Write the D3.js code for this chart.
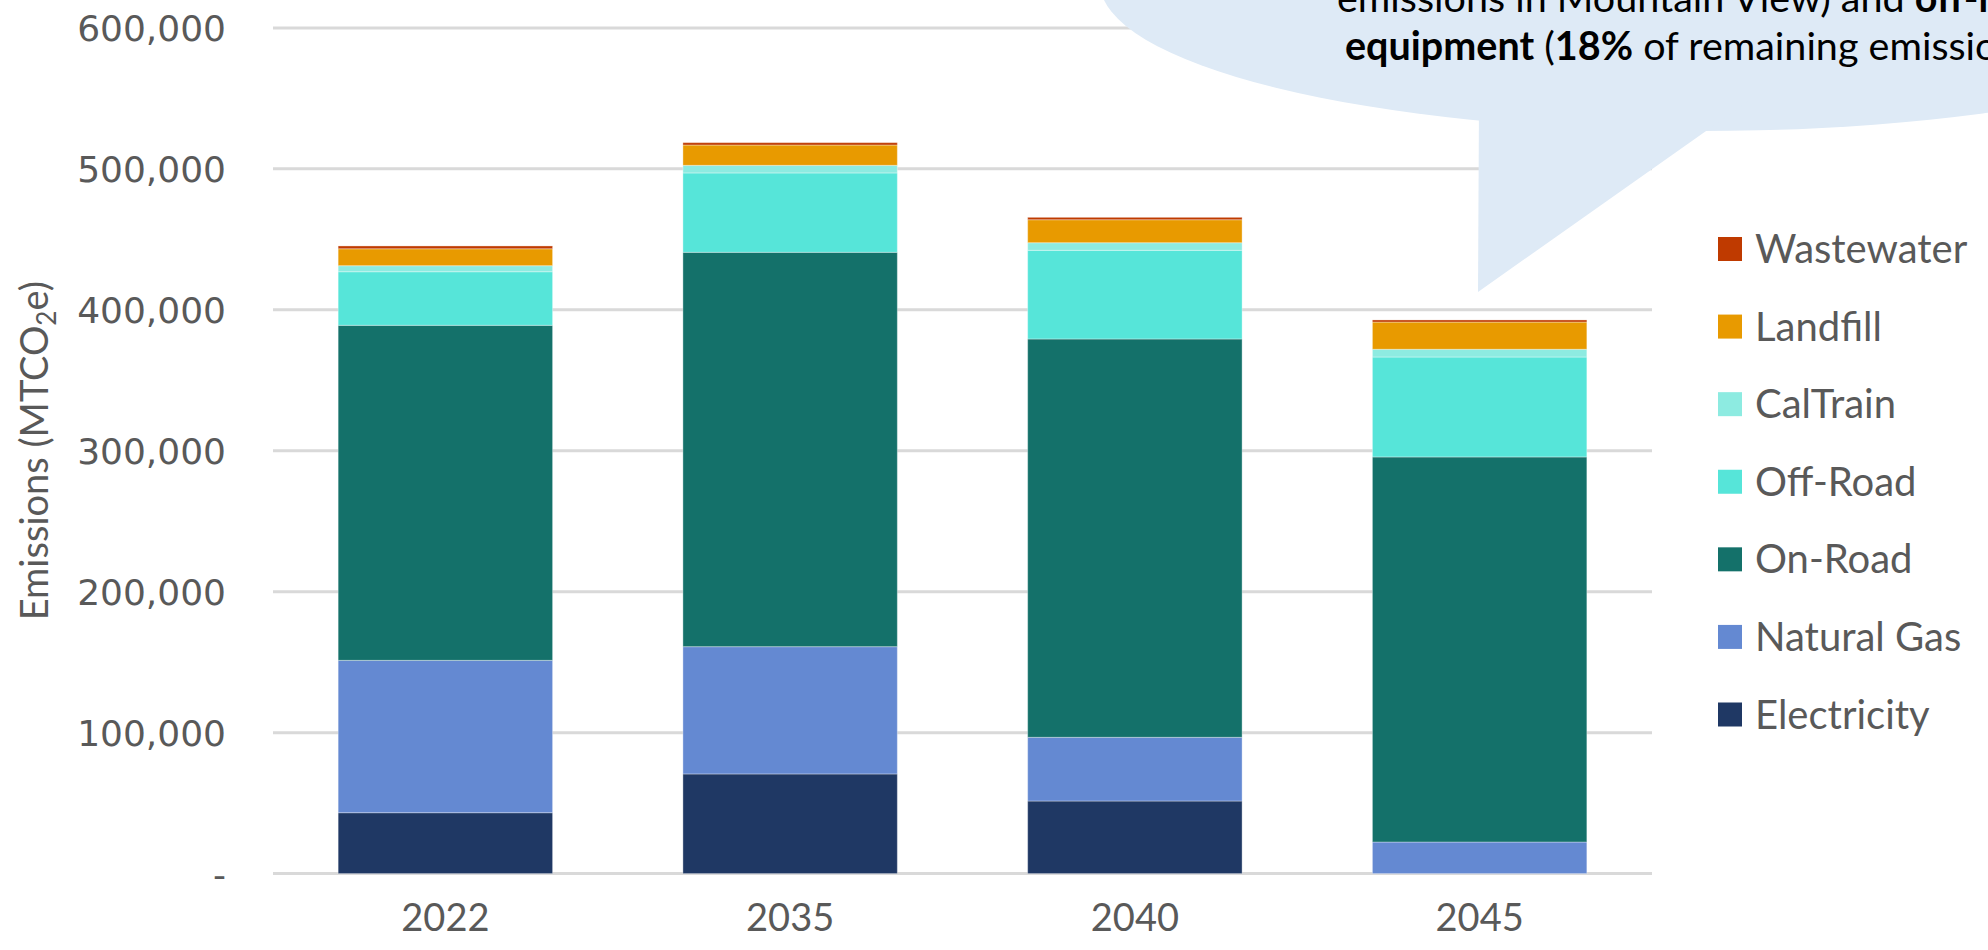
<!DOCTYPE html>
<html>
<head>
<meta charset="utf-8">
<script src="https://cdn.jsdelivr.net/npm/d3@7"></script>
<style>
  html, body { margin: 0; padding: 0; background: #ffffff; overflow: hidden; }
  svg { display: block; }
</style>
</head>
<body>
<svg id="chart" width="1988" height="950"></svg>
<script>
// ---- data ----
const years = ["2022", "2035", "2040", "2045"];
const seriesNames = ["Electricity", "Natural Gas", "On-Road", "Off-Road", "CalTrain", "Landfill", "Wastewater"];
const electricity = [43200, 70700, 51500, 0];
const naturalGas  = [108100, 90300, 45200, 22400];
const onRoad      = [237700, 279800, 282600, 273200];
const offRoad     = [38000, 56300, 62900, 70900];
const calTrain    = [4300, 5400, 5400, 5500];
const landfill    = [12000, 14400, 16300, 19300];
const wastewater  = [2000, 1700, 1700, 1500];
const seriesColors = ["#1f3864", "#6489d2", "#14716a", "#56e5d9", "#8debe1", "#e89a00", "#bf3a00"];
const yTickValues = [0, 100000, 200000, 300000, 400000, 500000, 600000];
const yTickLabels = ["-", "100,000", "200,000", "300,000", "400,000", "500,000", "600,000"];
const legendOrder = ["Wastewater", "Landfill", "CalTrain", "Off-Road", "On-Road", "Natural Gas", "Electricity"];
const calloutLine1 = [["emissions in Mountain View) and ", false], ["off-road", true]];
const calloutLine2 = [["equipment", true], [" (", false], ["18%", true], [" of remaining emissions).", false]];

const seriesValues = [electricity, naturalGas, onRoad, offRoad, calTrain, landfill, wastewater];
const table = years.map((y, i) => {
  const row = { year: y };
  seriesNames.forEach((s, k) => row[s] = seriesValues[k][i]);
  return row;
});

const svg = d3.select("#chart");
const plotLeft = 273, plotRight = 1652, plotTop = 27.9, plotBottom = 873.6;

const x = d3.scaleBand().domain(years).range([plotLeft, plotRight]).paddingInner(0.378).paddingOuter(0.189);
const y = d3.scaleLinear().domain([0, 600000]).range([plotBottom, plotTop]);
const color = d3.scaleOrdinal().domain(seriesNames).range(seriesColors);

// gridlines
svg.append("g").selectAll("line").data(yTickValues).join("line")
  .attr("x1", plotLeft).attr("x2", plotRight)
  .attr("y1", d => y(d)).attr("y2", d => y(d))
  .attr("stroke", "#d9d9d9").attr("stroke-width", 3);

// y tick labels
const yAxis = d3.axisLeft(y).tickValues(yTickValues).tickSize(0)
  .tickFormat((d, i) => yTickLabels[i]);
const yg = svg.append("g").attr("transform", `translate(${plotLeft - 47},0)`).call(yAxis);
yg.select(".domain").remove();
yg.selectAll("text").attr("font-family", "DejaVu Sans").attr("font-size", 36)
  .attr("fill", "#595959").attr("dy", "0.35em").attr("x", 0);

// y title
const title = svg.append("text")
  .attr("transform", `translate(48,${(plotTop + plotBottom) / 2}) rotate(-90)`)
  .attr("text-anchor", "middle")
  .attr("font-family", "Lato").attr("font-size", 38).attr("fill", "#595959");
title.append("tspan").text("Emissions (MTCO");
title.append("tspan").text("2").attr("font-size", 26).attr("dy", 8);
title.append("tspan").text("e)").attr("dy", -8);

// stacked bars
const stack = d3.stack().keys(seriesNames);
const layers = stack(table);
svg.append("g").selectAll("g").data(layers).join("g")
  .attr("fill", d => color(d.key))
  .selectAll("rect").data(d => d).join("rect")
  .attr("x", d => x(d.data.year))
  .attr("width", x.bandwidth())
  .attr("y", d => y(d[1]))
  .attr("height", d => Math.max(0, y(d[0]) - y(d[1])))
  .attr("stroke", "#ffffff").attr("stroke-opacity", 0.35).attr("stroke-width", 1);

// x axis labels
const xAxis = d3.axisBottom(x).tickSize(0);
const xg = svg.append("g").attr("transform", `translate(0,${plotBottom})`).call(xAxis);
xg.select(".domain").remove();
xg.selectAll("text").attr("font-family", "Lato").attr("font-size", 38)
  .attr("fill", "#595959").attr("y", 44).attr("dy", "0.35em");

// legend
const legendY = d3.scalePoint().domain(legendOrder).range([249, 714.5]);
const lg = svg.append("g").selectAll("g").data(legendOrder).join("g")
  .attr("transform", d => `translate(1718,${legendY(d)})`);
lg.append("rect").attr("x", 0).attr("y", -12).attr("width", 24).attr("height", 24)
  .attr("fill", d => color(d));
lg.append("text").attr("x", 37).attr("dy", "0.35em").text(d => d)
  .attr("font-family", "Lato").attr("font-size", 40).attr("fill", "#595959");

// callout bubble
const bubble = svg.append("g");
bubble.append("ellipse").attr("cx", 1700).attr("cy", -17).attr("rx", 600).attr("ry", 148)
  .attr("fill", "#deeaf6");
bubble.append("path").attr("d", "M1479,100 L1478,292 L1750,100 Z").attr("fill", "#deeaf6");

function writeLine(parts, xStart, yBase) {
  const t = bubble.append("text").attr("x", xStart).attr("y", yBase)
    .attr("font-family", "Lato").attr("font-size", 39.5).attr("fill", "#000000");
  parts.forEach(([s, b]) => t.append("tspan").text(s).attr("font-weight", b ? "bold" : "normal"));
}
writeLine(calloutLine1, 1337, 12);
writeLine(calloutLine2, 1345, 60);
</script>
</body>
</html>
